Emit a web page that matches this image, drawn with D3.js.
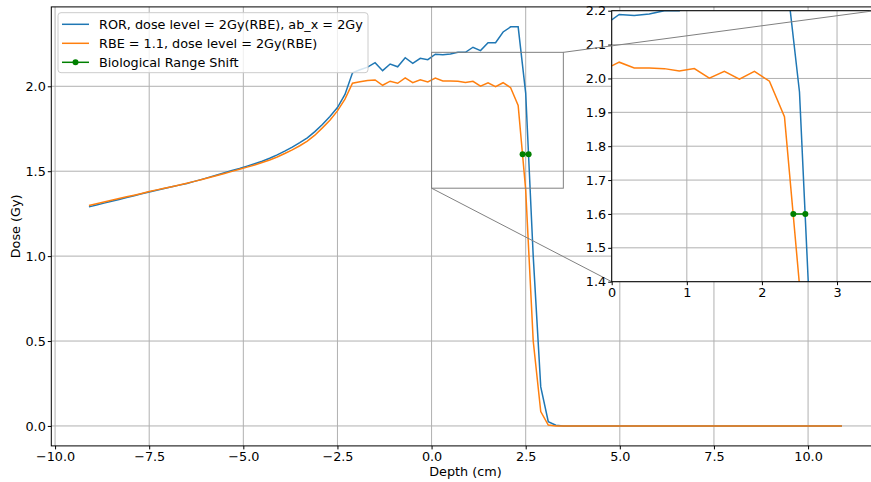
<!DOCTYPE html>
<html>
<head>
<meta charset="utf-8">
<script src="https://cdn.jsdelivr.net/npm/d3@7"></script>
<style>
  body { margin: 0; background: #fff; }
  svg { display: block; }
  text { font-family: "DejaVu Sans", sans-serif; }
</style>
</head>
<body>
<svg id="chart" width="871" height="482"></svg>
<script>
// Depth grid (cm) of the dose profiles
const depth = [
  -9.1, -8.9, -8.7, -8.5, -8.3, -8.1, -7.9, -7.7, -7.5, -7.3,
  -7.1, -6.9, -6.7, -6.5, -6.3, -6.1, -5.9, -5.7, -5.5, -5.3,
  -5.1, -4.9, -4.7, -4.5, -4.3, -4.1, -3.9, -3.7, -3.5, -3.3,
  -3.1, -2.9, -2.7, -2.5, -2.3, -2.1, -1.9, -1.7, -1.5, -1.3,
  -1.1, -0.9, -0.7, -0.5, -0.3, -0.1, 0.1, 0.3, 0.5, 0.7,
  0.9, 1.1, 1.3, 1.5, 1.7, 1.9, 2.1, 2.3, 2.5, 2.7,
  2.9, 3.1, 3.3, 3.5, 3.7, 3.9, 4.1, 4.3, 4.5, 4.7,
  4.9, 5.1, 5.3, 5.5, 5.7, 5.9, 6.1, 6.3, 6.5, 6.7,
  6.9, 7.1, 7.3, 7.5, 7.7, 7.9, 8.1, 8.3, 8.5, 8.7,
  8.9, 9.1, 9.3, 9.5, 9.7, 9.9, 10.1, 10.3, 10.5, 10.7,
  10.9
];

// Dose (Gy) with the ROR model, alpha/beta_x = 2 Gy
const rorDose = [
  1.290, 1.301, 1.312, 1.323, 1.334, 1.345, 1.356, 1.367, 1.378, 1.388,
  1.398, 1.408, 1.418, 1.428, 1.440, 1.452, 1.465, 1.478, 1.491, 1.504,
  1.516, 1.530, 1.544, 1.559, 1.576, 1.596, 1.618, 1.642, 1.668, 1.696,
  1.733, 1.775, 1.822, 1.875, 1.952, 2.080, 2.097, 2.113, 2.139, 2.092,
  2.131, 2.115, 2.168, 2.135, 2.165, 2.157, 2.189, 2.186, 2.190, 2.200,
  2.200, 2.230, 2.210, 2.257, 2.257, 2.320, 2.350, 2.350, 1.960, 1.000,
  0.230, 0.025, 0.004, 0, 0, 0, 0, 0, 0, 0,
  0, 0, 0, 0, 0, 0, 0, 0, 0, 0,
  0, 0, 0, 0, 0, 0, 0, 0, 0, 0,
  0, 0, 0, 0, 0, 0, 0, 0, 0, 0,
  0
];

// Dose (Gy) with a constant RBE of 1.1
const rbeDose = [
  1.298, 1.308, 1.319, 1.329, 1.339, 1.349, 1.359, 1.369, 1.380, 1.390,
  1.400, 1.409, 1.419, 1.429, 1.440, 1.451, 1.463, 1.475, 1.487, 1.499,
  1.511, 1.524, 1.537, 1.551, 1.566, 1.584, 1.604, 1.626, 1.650, 1.677,
  1.712, 1.755, 1.800, 1.855, 1.925, 2.018, 2.027, 2.034, 2.037, 2.006,
  2.030, 2.018, 2.050, 2.021, 2.038, 2.026, 2.048, 2.031, 2.031, 2.029,
  2.022, 2.029, 2.001, 2.021, 1.998, 2.021, 1.992, 1.887, 1.390, 0.500,
  0.085, 0.005, 0, 0, 0, 0, 0, 0, 0, 0,
  0, 0, 0, 0, 0, 0, 0, 0, 0, 0,
  0, 0, 0, 0, 0, 0, 0, 0, 0, 0,
  0, 0, 0, 0, 0, 0, 0, 0, 0, 0,
  0
];

// Distal 80% points of the two profiles
const shiftDepth = [2.418, 2.578];
const shiftDose = [1.6, 1.6];

const seriesLabels = [
  "ROR, dose level = 2Gy(RBE), ab_x = 2Gy",
  "RBE = 1.1, dose level = 2Gy(RBE)",
  "Biological Range Shift"
];
const seriesColors = ["#1f77b4", "#ff7f0e", "green"];

const xTicks = [-10, -7.5, -5, -2.5, 0, 2.5, 5, 7.5, 10];
const yTicks = [0, 0.5, 1, 1.5, 2];
const zoomXTicks = [0, 1, 2, 3];
const zoomYTicks = [1.4, 1.5, 1.6, 1.7, 1.8, 1.9, 2.0, 2.1, 2.2];
const zoomXRange = [0, 3.5];
const zoomYRange = [1.4, 2.2];

const svg = d3.select("#chart");
const FONT = 12.8;
const GRID = "#b0b0b0";

// main axes frame
const M = { left: 51.3, right: 879.6, top: 6.9, bottom: 445.9 };
const x = d3.scaleLinear().domain([-10.1, 11.9]).range([M.left, M.right]);
const y = d3.scaleLinear().domain([-0.1175, 2.4675]).range([M.bottom, M.top]);

// inset axes frame
const Z = { left: 611.7, right: 874.6, top: 10.7, bottom: 281.7 };
const zx = d3.scaleLinear().domain(zoomXRange).range([Z.left, Z.right]);
const zy = d3.scaleLinear().domain(zoomYRange).range([Z.bottom, Z.top]);

const defs = svg.append("defs");
defs.append("clipPath").attr("id", "clipMain").append("rect")
  .attr("x", M.left).attr("y", M.top)
  .attr("width", M.right - M.left).attr("height", M.bottom - M.top);
defs.append("clipPath").attr("id", "clipZoom").append("rect")
  .attr("x", Z.left).attr("y", Z.top)
  .attr("width", Z.right - Z.left).attr("height", Z.bottom - Z.top);

function drawPanel(g, sx, sy, box, xt, yt, xfmt, yfmt, clipId) {
  // grid
  const grid = g.append("g");
  grid.selectAll("line.gx").data(xt).join("line")
    .attr("x1", d => sx(d)).attr("x2", d => sx(d))
    .attr("y1", box.top).attr("y2", box.bottom)
    .attr("stroke", GRID).attr("stroke-width", 1);
  grid.selectAll("line.gy").data(yt).join("line")
    .attr("y1", d => sy(d)).attr("y2", d => sy(d))
    .attr("x1", box.left).attr("x2", box.right)
    .attr("stroke", GRID).attr("stroke-width", 1);

  // profiles
  const plot = g.append("g").attr("clip-path", `url(#${clipId})`);
  const line = d3.line().x(d => sx(d[0])).y(d => sy(d[1]));
  plot.append("path").datum(d3.zip(depth, rorDose))
    .attr("d", line).attr("fill", "none")
    .attr("stroke", seriesColors[0]).attr("stroke-width", 1.5);
  plot.append("path").datum(d3.zip(depth, rbeDose))
    .attr("d", line).attr("fill", "none")
    .attr("stroke", seriesColors[1]).attr("stroke-width", 1.5);
  const shift = d3.zip(shiftDepth, shiftDose);
  plot.append("path").datum(shift)
    .attr("d", line).attr("fill", "none")
    .attr("stroke", seriesColors[2]).attr("stroke-width", 1.5);
  plot.selectAll("circle").data(shift).join("circle")
    .attr("cx", d => sx(d[0])).attr("cy", d => sy(d[1])).attr("r", 3)
    .attr("fill", seriesColors[2]);
  return plot;
}

function drawAxes(g, sx, sy, box, xt, yt, xfmt, yfmt) {
  const ax = g.append("g").attr("transform", `translate(0,${box.bottom})`)
    .call(d3.axisBottom(sx).tickValues(xt).tickFormat(xfmt).tickSize(3.5).tickPadding(2.5));
  const ay = g.append("g").attr("transform", `translate(${box.left},0)`)
    .call(d3.axisLeft(sy).tickValues(yt).tickFormat(yfmt).tickSize(3.5).tickPadding(2));
  [ax, ay].forEach(a => {
    a.select(".domain").remove();
    a.selectAll(".tick line").attr("stroke", "#000").attr("stroke-width", 1);
    a.selectAll(".tick text").attr("font-size", FONT)
      .attr("font-family", "DejaVu Sans, sans-serif").attr("fill", "#000");
  });
  g.append("rect")
    .attr("x", box.left).attr("y", box.top)
    .attr("width", box.right - box.left).attr("height", box.bottom - box.top)
    .attr("fill", "none").attr("stroke", "#000").attr("stroke-width", 1);
}

// ---- main panel ----
const main = svg.append("g");
drawPanel(main, x, y, M, xTicks, yTicks, null, null, "clipMain");

// zoom region marker and its lower connector
const marker = main.append("g").attr("stroke", "#808080").attr("fill", "none").attr("stroke-width", 1);
marker.append("rect")
  .attr("x", x(zoomXRange[0])).attr("y", y(zoomYRange[1]))
  .attr("width", x(zoomXRange[1]) - x(zoomXRange[0]))
  .attr("height", y(zoomYRange[0]) - y(zoomYRange[1]));
marker.append("line")
  .attr("x1", x(zoomXRange[0])).attr("y1", y(zoomYRange[0]))
  .attr("x2", Z.left).attr("y2", Z.bottom);

drawAxes(main, x, y, M, xTicks, yTicks, d3.format(".1f"), d3.format(".1f"));

// axis titles
svg.append("text")
  .attr("x", (M.left + M.right) / 2).attr("y", 476)
  .attr("text-anchor", "middle").attr("font-size", FONT).text("Depth (cm)");
svg.append("text")
  .attr("transform", `translate(20,${(M.top + M.bottom) / 2}) rotate(-90)`)
  .attr("text-anchor", "middle").attr("font-size", FONT).text("Dose (Gy)");

// legend
const lg = svg.append("g");
lg.append("rect")
  .attr("x", 58).attr("y", 12.7).attr("width", 310).attr("height", 60)
  .attr("rx", 3).attr("fill", "#fff").attr("fill-opacity", 0.8)
  .attr("stroke", "#cccccc").attr("stroke-width", 1);
seriesLabels.forEach((label, i) => {
  const cy = 24.3 + i * 19;
  lg.append("line")
    .attr("x1", 62).attr("x2", 89).attr("y1", cy).attr("y2", cy)
    .attr("stroke", seriesColors[i]).attr("stroke-width", 1.5);
  if (i === 2) {
    lg.append("circle").attr("cx", 75.5).attr("cy", cy).attr("r", 3)
      .attr("fill", seriesColors[i]);
  }
  lg.append("text").attr("x", 99).attr("y", cy + 4.6)
    .attr("font-size", FONT).attr("fill", "#000").text(label);
});

// ---- inset panel ----
const inset = svg.append("g");
inset.append("rect")
  .attr("x", Z.left).attr("y", Z.top)
  .attr("width", Z.right - Z.left).attr("height", Z.bottom - Z.top)
  .attr("fill", "#fff");
drawPanel(inset, zx, zy, Z, zoomXTicks, zoomYTicks, null, null, "clipZoom");
drawAxes(inset, zx, zy, Z, zoomXTicks, zoomYTicks, d3.format("d"), d3.format(".1f"));

// upper connector from the marker to the inset corner
svg.append("line")
  .attr("x1", x(zoomXRange[1])).attr("y1", y(zoomYRange[1]))
  .attr("x2", Z.right).attr("y2", Z.top)
  .attr("stroke", "#808080").attr("stroke-width", 1);
</script>
</body>
</html>
